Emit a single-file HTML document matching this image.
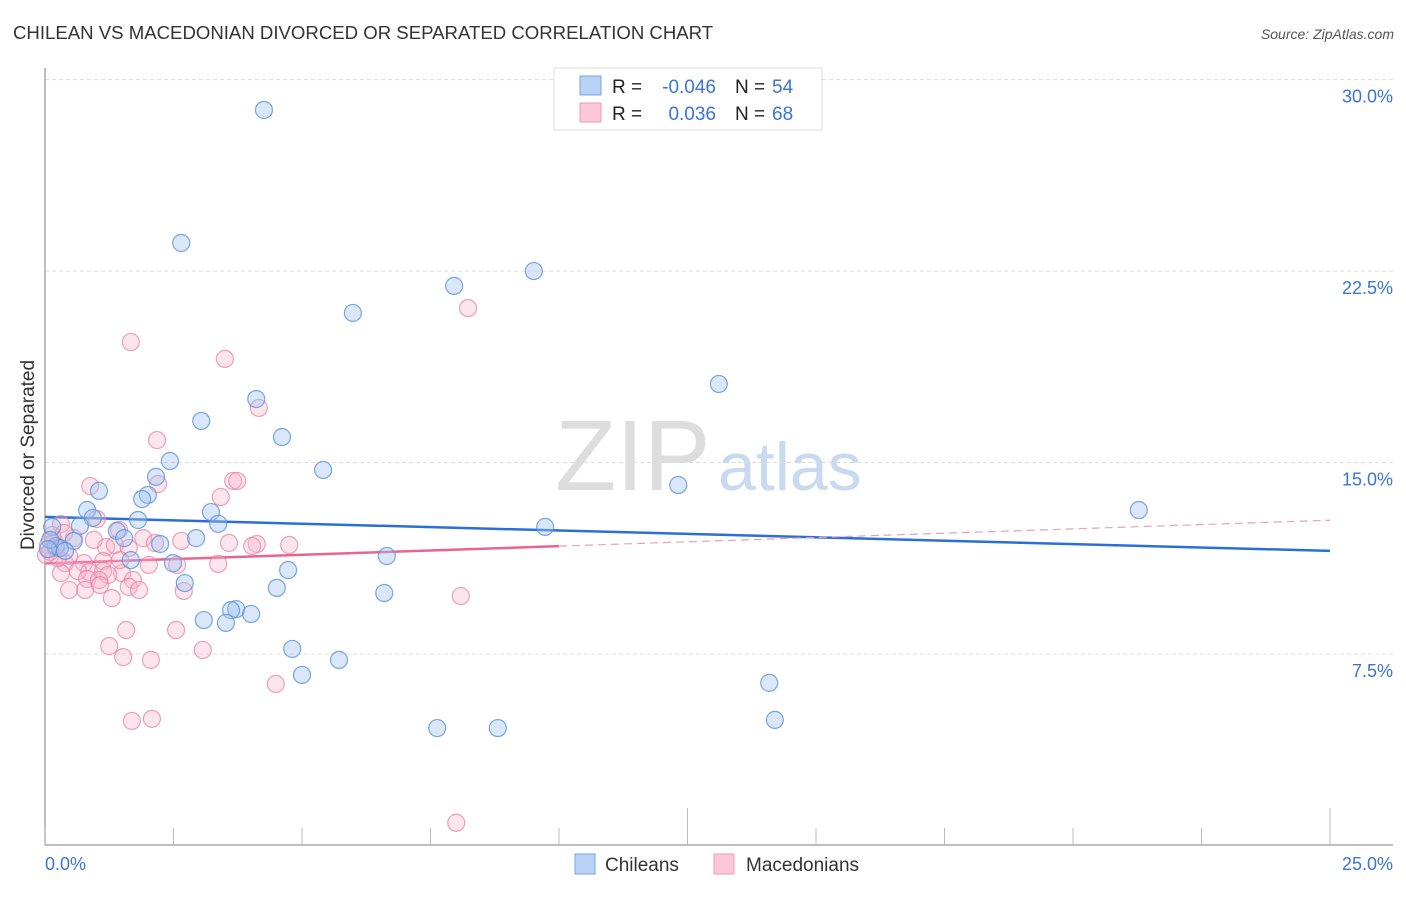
<!DOCTYPE html>
<html><head><meta charset="utf-8"><style>
body{margin:0;background:#fff;font-family:"Liberation Sans",sans-serif}
svg text{font-family:"Liberation Sans",sans-serif}
</style></head><body>
<svg id="chart" width="1406" height="892" xmlns="http://www.w3.org/2000/svg">
<text x="13" y="39" font-size="18.6" fill="#333">CHILEAN VS MACEDONIAN DIVORCED OR SEPARATED CORRELATION CHART</text>
<text x="1394" y="39" font-size="14" fill="#555" font-style="italic" text-anchor="end">Source: ZipAtlas.com</text>
<g>
<text x="555" y="490" font-size="100" fill="#ddd" font-family="Liberation Serif">ZIP</text>
<text x="718" y="490" font-size="68" fill="#c9daf0">atlas</text>
</g>
<g id="grid"></g>
<g id="axes"></g>
<g id="trend"></g>
<g id="pts"></g>
<text transform="translate(34,455) rotate(-90)" font-size="19" fill="#333" text-anchor="middle">Divorced or Separated</text>
<g>
<rect x="554" y="68" width="268" height="62" fill="#fff" stroke="#ddd"/>
<rect x="580" y="76" width="21" height="19" fill="#b8d3f5" stroke="#7aa6e3"/>
<rect x="580" y="103" width="21" height="19" fill="#fcc8d8" stroke="#ec9ab4"/>
<text x="612" y="93" font-size="19" fill="#222">R =</text>
<text x="716" y="93" font-size="19" fill="#3b74d6" text-anchor="end">-0.046</text>
<text x="735" y="93" font-size="19" fill="#222">N =</text>
<text x="772" y="93" font-size="19" fill="#3b74d6">54</text>
<text x="612" y="120" font-size="19" fill="#222">R =</text>
<text x="716" y="120" font-size="19" fill="#3b74d6" text-anchor="end">0.036</text>
<text x="735" y="120" font-size="19" fill="#222">N =</text>
<text x="772" y="120" font-size="19" fill="#3b74d6">68</text>
</g>
<g>
<rect x="575" y="854" width="20" height="20" fill="#b8d3f5" stroke="#7aa6e3"/>
<text x="605" y="871" font-size="19" fill="#333">Chileans</text>
<rect x="714" y="854" width="20" height="20" fill="#fcc8d8" stroke="#ec9ab4"/>
<text x="746" y="871" font-size="19" fill="#333">Macedonians</text>
</g>
</svg>
<script>
const yTicks=[7.5,15,22.5,30];
const yTickLabels=["7.5%","15.0%","22.5%","30.0%"];
const xTickLabels=["0.0%","25.0%"];
const blueX=[4.26,2.65,9.51,7.96,5.99,13.11,4.11,3.04,4.61,2.43,5.41,2.16,12.32,1.05,2.00,1.89,0.82,3.23,0.93,1.81,3.37,9.73,21.28,0.14,0.68,1.40,1.54,2.94,2.24,0.56,0.21,0.29,0.39,1.67,2.49,6.65,4.73,2.72,4.51,6.60,3.72,3.62,4.01,3.09,3.52,4.81,5.72,5.00,14.09,7.63,8.81,14.20,0.10,0.06];
const blueY=[28.81,23.60,22.50,21.92,20.86,18.08,17.49,16.63,16.00,15.06,14.71,14.44,14.12,13.89,13.73,13.57,13.14,13.06,12.83,12.75,12.60,12.48,13.14,12.48,12.52,12.32,12.04,12.04,11.81,11.93,11.73,11.65,11.54,11.18,11.06,11.34,10.79,10.28,10.09,9.89,9.26,9.22,9.07,8.83,8.72,7.70,7.27,6.68,6.37,4.60,4.60,4.92,11.97,11.61];
const pinkX=[8.23,1.67,3.50,4.16,2.18,0.88,2.20,3.66,3.74,3.42,1.01,0.31,1.44,0.56,1.91,0.18,0.06,0.21,1.19,2.14,2.65,3.58,4.12,4.75,4.03,1.36,1.63,0.47,0.76,1.13,0.39,2.02,2.57,1.50,3.37,0.86,1.13,0.64,1.23,0.31,1.71,0.82,1.05,1.63,2.70,0.47,0.78,1.30,1.07,1.58,8.09,2.55,1.25,3.07,1.52,2.06,4.49,1.69,2.08,8.00,0.10,0.25,0.02,0.14,0.37,0.95,1.46,1.83];
const pinkY=[21.05,19.72,19.06,17.14,15.88,14.08,14.16,14.28,14.28,13.65,12.79,12.59,12.36,12.04,12.04,11.93,11.77,11.65,11.69,11.85,11.93,11.85,11.81,11.77,11.73,11.77,11.65,11.34,11.06,11.14,11.06,10.99,10.99,10.67,11.03,10.71,10.75,10.75,10.60,10.67,10.40,10.44,10.40,10.13,9.97,10.01,10.01,9.69,10.20,8.44,9.77,8.44,7.81,7.66,7.38,7.27,6.33,4.88,4.96,0.89,11.50,11.26,11.38,12.16,12.24,11.97,11.18,10.01];
const blueTrend=[12.87,11.54];
const pinkTrend=[11.05,12.74];
const pinkSolidEnd=10;
const NS="http://www.w3.org/2000/svg";
const sx=v=>45+v*51.4;
const sy=v=>845.5-v*25.53;
function mk(tag,attrs,parent){const e=document.createElementNS(NS,tag);for(const k in attrs)e.setAttribute(k,attrs[k]);parent.appendChild(e);return e;}
const grid=document.getElementById('grid'),axes=document.getElementById('axes'),trend=document.getElementById('trend'),pts=document.getElementById('pts');
yTicks.forEach((t,i)=>{
 const l=mk('line',{x1:45,x2:1393,y1:sy(t),y2:sy(t),stroke:'#ddd','stroke-dasharray':'4,3'},grid);
 
 
 const tx=mk('text',{x:1393,y:sy(t)+23,'font-size':18,fill:'#3b74d6','text-anchor':'end'},grid);
 tx.textContent=yTickLabels[i];
 
 
});
const ya=mk('line',{x1:45,x2:45,y1:68,y2:845,stroke:'#aaa','stroke-width':1.5},axes);


const xa=mk('line',{x1:45,x2:1393,y1:845,y2:845,stroke:'#aaa','stroke-width':1.5},axes);


for(let i=0;i<=10;i++){
 const v=i*2.5;const t=mk('line',{x1:sx(v),x2:sx(v),y1:(i==5||i==10)?808:828,y2:845,stroke:'#bbb'},axes);
 
 
}
[[0,'start',45],[25,'end',1393]].forEach((d,i)=>{
 const tx=mk('text',{x:d[2],y:870,'font-size':18,fill:'#3b74d6','text-anchor':d[1]},axes);
 tx.textContent=xTickLabels[i];
 
 
});
function drawPts(X,Y,fill,stroke,name){
 X.forEach((x,i)=>{const c=mk('circle',{cx:sx(x),cy:sy(Y[i]),r:8.5,fill:fill,stroke:stroke,'stroke-width':1.2},pts);
 
 });
}
drawPts(pinkX,pinkY,'rgba(248,180,202,0.35)','rgba(232,130,165,0.75)','macedonian-point');
drawPts(blueX,blueY,'rgba(160,195,240,0.4)','rgba(90,145,220,0.8)','chilean-point');
const bt=mk('line',{x1:sx(0),y1:sy(blueTrend[0]),x2:sx(25),y2:sy(blueTrend[1]),stroke:'#2a6fd6','stroke-width':2.5},trend);


const pm=pinkTrend[0]+(pinkTrend[1]-pinkTrend[0])*pinkSolidEnd/25;
const pt=mk('line',{x1:sx(0),y1:sy(pinkTrend[0]),x2:sx(pinkSolidEnd),y2:sy(pm),stroke:'#e8658f','stroke-width':2.5},trend);


const pd=mk('line',{x1:sx(pinkSolidEnd),y1:sy(pm),x2:sx(25),y2:sy(pinkTrend[1]),stroke:'#e8a0b8','stroke-width':1.2,'stroke-dasharray':'8,5'},trend);


</script>
</body></html>
